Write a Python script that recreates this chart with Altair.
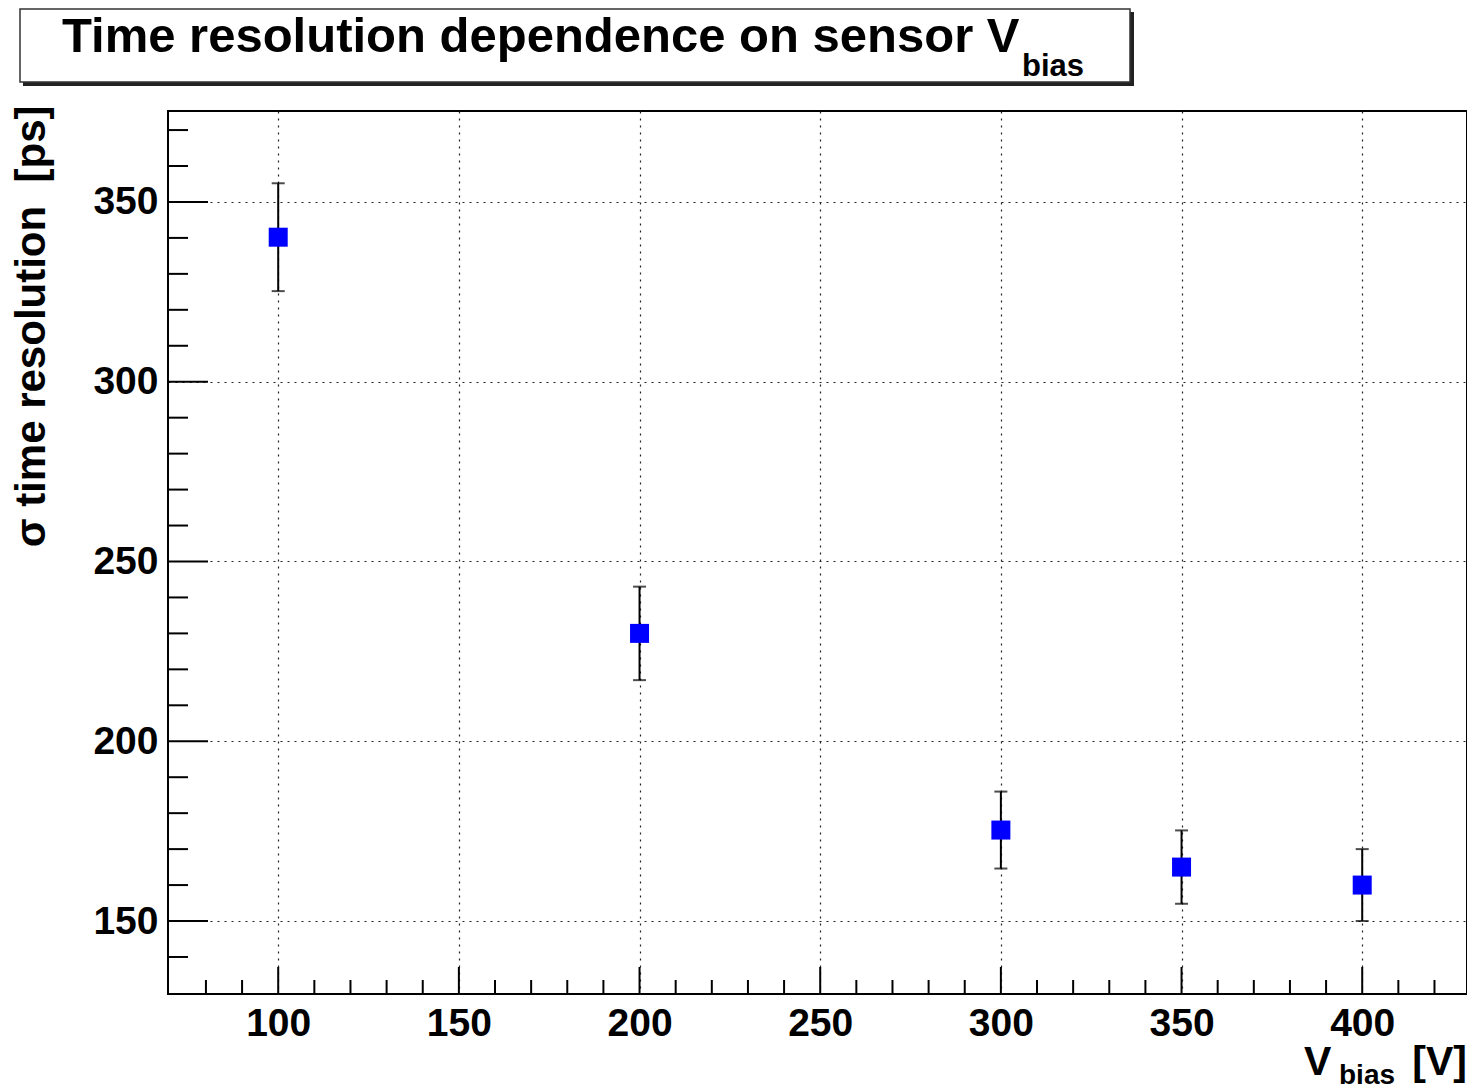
import altair as alt
import pandas as pd

# ---- data ----
vbias = [100, 200, 300, 350, 400]
sigma = [340.2, 230.0, 175.3, 165.0, 160.0]
sigma_err = [15.0, 13.0, 10.7, 10.2, 10.0]

x_major = [100, 150, 200, 250, 300, 350, 400]
x_minor = [80, 90, 110, 120, 130, 140, 160, 170, 180, 190, 210, 220, 230, 240,
           260, 270, 280, 290, 310, 320, 330, 340, 360, 370, 380, 390, 410, 420]
y_major = [150, 200, 250, 300, 350]
y_minor = [140, 160, 170, 180, 190, 210, 220, 230, 240, 260, 270, 280, 290,
           310, 320, 330, 340, 360, 370]

title_main = "Time resolution dependence on sensor V"
title_sub = "bias"
y_title = "\u03c3 time resolution\u00a0\u00a0[ps]"
x_title_main = "V"
x_title_sub = "bias"
x_title_unit = "[V]"

X_DOMAIN = [69.5, 429.0]
Y_DOMAIN = [129.7, 375.3]
W, H = 1299, 883
FONT = "Liberation Sans"

df = pd.DataFrame({
    "v": vbias,
    "s": sigma,
    "lo": [s - e for s, e in zip(sigma, sigma_err)],
    "hi": [s + e for s, e in zip(sigma, sigma_err)],
})

xs = alt.Scale(domain=X_DOMAIN, nice=False, zero=False)
ys = alt.Scale(domain=Y_DOMAIN, nice=False, zero=False)

x_axis = alt.Axis(values=x_major, grid=True, gridDash=[2, 5], gridColor="#222222",
                  gridWidth=1.2, ticks=False, domain=False, labelFont=FONT,
                  labelFontSize=39, labelFontWeight="bold", labelColor="black",
                  labelPadding=10, labelFlush=False)
y_axis = alt.Axis(values=y_major, grid=True, gridDash=[2, 5], gridColor="#222222",
                  gridWidth=1.2, ticks=False, domain=False, labelFont=FONT,
                  labelFontSize=39, labelFontWeight="bold", labelColor="black",
                  labelPadding=10, labelFlush=False,
                  titleFont=FONT, titleFontSize=42, titleFontWeight="bold",
                  titleColor="black", titleX=-124, titleY=-6, titleAlign="right",
                  titleBaseline="alphabetic", titleAngle=270)


def xenc(field):
    return alt.X(f"{field}:Q", scale=xs, axis=x_axis, title="")


def yenc(field):
    return alt.Y(f"{field}:Q", scale=ys, axis=y_axis, title=y_title)


base = alt.Chart(df)

points = base.mark_square(size=361, color="#0000ff", opacity=1).encode(
    x=xenc("v"), y=yenc("s"))

bars = base.mark_rule(color="black", strokeWidth=2).encode(
    x=xenc("v"), y=yenc("lo"), y2="hi:Q")

cap_lo = base.mark_tick(orient="horizontal", size=13, thickness=2, color="black").encode(
    x=xenc("v"), y=yenc("lo"))
cap_hi = base.mark_tick(orient="horizontal", size=13, thickness=2, color="black").encode(
    x=xenc("v"), y=yenc("hi"))

# inward ticks
xmaj = alt.Chart(pd.DataFrame({"v": x_major})).mark_rule(color="black", strokeWidth=2).encode(
    x=xenc("v"), y=alt.value(H), y2=alt.value(H - 27))
xmin = alt.Chart(pd.DataFrame({"v": x_minor})).mark_rule(color="black", strokeWidth=2).encode(
    x=xenc("v"), y=alt.value(H), y2=alt.value(H - 14))
ymaj = alt.Chart(pd.DataFrame({"s": y_major})).mark_rule(color="black", strokeWidth=2).encode(
    y=yenc("s"), x=alt.value(0), x2=alt.value(40))
ymin = alt.Chart(pd.DataFrame({"s": y_minor})).mark_rule(color="black", strokeWidth=2).encode(
    y=yenc("s"), x=alt.value(0), x2=alt.value(20))

# title box
tdf = pd.DataFrame({"t": [title_main], "sub": [title_sub]})
box_shadow = alt.Chart(tdf).mark_rect(color="#222222").encode(
    x=alt.value(-145), x2=alt.value(966), y=alt.value(-99), y2=alt.value(-25))
box = alt.Chart(tdf).mark_rect(fill="white", stroke="#333333", strokeWidth=1.5).encode(
    x=alt.value(-148), x2=alt.value(962), y=alt.value(-102), y2=alt.value(-29))
t_main = alt.Chart(tdf).mark_text(font=FONT, fontSize=49, fontWeight="bold", align="left",
                                  baseline="alphabetic", color="black").encode(
    x=alt.value(-106), y=alt.value(-59), text="t:N")
t_sub = alt.Chart(tdf).mark_text(font=FONT, fontSize=31, fontWeight="bold", align="left",
                                 baseline="alphabetic", color="black").encode(
    x=alt.value(854), y=alt.value(-35), text="sub:N")

# x-axis title (with subscript)
xdf = pd.DataFrame({"a": [x_title_main], "b": [x_title_sub], "c": [x_title_unit]})
xt_a = alt.Chart(xdf).mark_text(font=FONT, fontSize=41, fontWeight="bold", align="left",
                                baseline="alphabetic", color="black").encode(
    x=alt.value(1136), y=alt.value(964), text="a:N")
xt_b = alt.Chart(xdf).mark_text(font=FONT, fontSize=28, fontWeight="bold", align="left",
                                baseline="alphabetic", color="black").encode(
    x=alt.value(1171), y=alt.value(973), text="b:N")
xt_c = alt.Chart(xdf).mark_text(font=FONT, fontSize=41, fontWeight="bold", align="right",
                                baseline="alphabetic", color="black").encode(
    x=alt.value(W), y=alt.value(964), text="c:N")

chart = alt.layer(
    xmaj, xmin, ymaj, ymin, bars, cap_lo, cap_hi, points,
    box_shadow, box, t_main, t_sub, xt_a, xt_b, xt_c
).properties(
    width=W, height=H, autosize="none",
    padding={"left": 160, "top": 103, "right": 0, "bottom": 95},
    background="white",
).configure_view(stroke="black", strokeWidth=2)

chart.save("out.html", embed_options={"renderer": "svg", "actions": False})
